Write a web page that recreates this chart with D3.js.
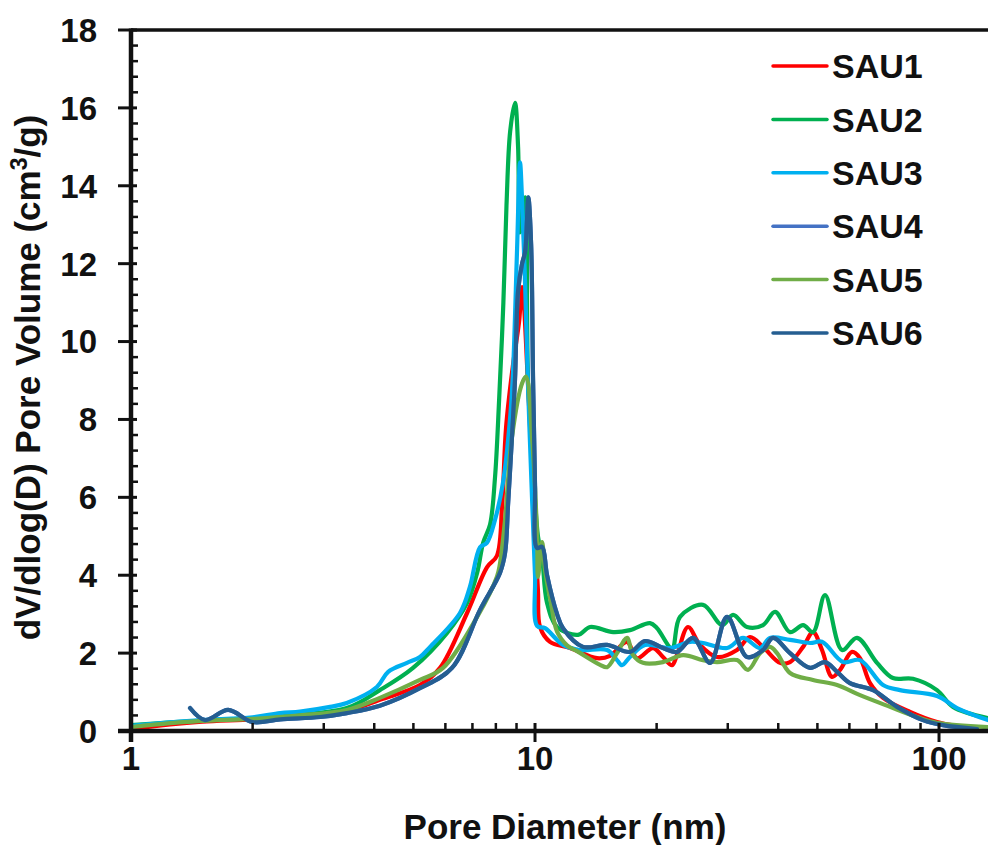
<!DOCTYPE html>
<html>
<head>
<meta charset="utf-8">
<script src="https://cdn.jsdelivr.net/npm/d3@7"></script>
<style>
  html, body { margin: 0; padding: 0; background: #fff; }
  svg { display: block; font-family: "Liberation Sans", Arial, sans-serif; font-weight: bold; }
</style>
</head>
<body>
<svg id="chart" width="988" height="845"></svg>
<script>
// ---------------- DATA ----------------
const seriesNames = ["SAU1", "SAU2", "SAU3", "SAU4", "SAU5", "SAU6"];
const seriesColors = ["#FF0000", "#00B050", "#00B0F0", "#4472C4", "#70AD47", "#255E91"];

const sau1 = [[1.0,0.05],[1.25,0.17],[1.5,0.24],[2.0,0.3],[2.62,0.38],[3.11,0.45],[3.42,0.5],[4.13,0.8],[5.19,1.18],[5.82,1.62],[6.79,3.03],[7.61,4.21],[8.05,4.5],[8.29,5.8],[8.48,7.8],[8.82,9.4],[9.13,10.5],[9.29,11.4],[9.6,9.0],[9.95,5.5],[10.17,3.6],[10.29,2.67],[10.89,2.29],[12.21,2.13],[14.24,1.87],[15.34,1.93],[16.89,2.29],[17.88,1.87],[19.59,2.13],[20.74,1.9],[21.83,1.69],[22.46,1.95],[23.92,2.67],[25.61,2.21],[28.22,1.9],[31.62,2.08],[34.06,2.41],[36.68,2.16],[40.41,1.75],[42.78,1.77],[46.08,2.16],[48.77,2.54],[51.33,2.08],[54.34,1.39],[56.89,1.57],[60.91,2.03],[63.75,1.87],[67.48,1.23],[72.69,0.85],[84.79,0.49],[98.86,0.23],[124.2,0.05]];

const sau2 = [[1.0,0.15],[1.25,0.22],[1.5,0.27],[2.0,0.33],[2.34,0.39],[3.42,0.59],[4.13,1.05],[4.99,1.62],[6.06,2.52],[6.79,3.29],[7.19,4.06],[7.44,4.83],[7.74,5.3],[7.96,6.5],[8.15,8.5],[8.35,11.0],[8.5,13.5],[8.68,15.4],[8.92,16.13],[9.08,15.0],[9.18,12.8],[9.45,13.7],[9.61,9.0],[9.89,6.8],[10.17,5.0],[10.41,4.47],[10.71,3.29],[11.34,2.67],[12.78,2.47],[13.69,2.67],[15.61,2.54],[17.18,2.59],[19.26,2.77],[20.05,2.64],[21.83,2.13],[22.85,2.93],[26.05,3.24],[29.04,2.72],[30.92,2.98],[33.48,2.67],[36.68,2.72],[39.28,3.06],[42.78,2.54],[46.08,2.72],[48.77,2.54],[52.22,3.49],[57.54,2.08],[62.66,2.39],[70.23,1.75],[76.92,1.36],[86.21,1.34],[98.86,1.05],[108.3,0.62],[132.2,0.33]];

const sau3 = [[1.0,0.13],[1.25,0.22],[1.5,0.28],[2.0,0.35],[2.34,0.46],[2.62,0.5],[3.11,0.62],[3.42,0.72],[4.06,1.13],[4.33,1.52],[4.82,1.75],[5.19,1.9],[5.5,2.16],[6.52,3.03],[6.9,3.7],[7.31,4.72],[7.6,4.83],[7.96,5.42],[8.33,6.37],[8.67,8.0],[8.82,9.2],[9.03,12.4],[9.18,14.6],[9.3,13.5],[9.45,11.5],[9.6,9.0],[9.83,6.0],[10.0,4.0],[10.12,2.7],[10.59,2.64],[11.73,2.21],[12.92,2.08],[15.08,2.08],[15.96,1.82],[16.42,1.69],[17.18,1.9],[18.72,2.21],[21.58,2.13],[24.2,2.29],[26.05,2.26],[29.88,2.13],[32.73,2.39],[36.06,2.13],[38.17,2.39],[42.78,2.34],[47.95,2.26],[51.33,2.29],[57.87,1.77],[63.75,1.82],[72.69,1.18],[80.06,1.05],[98.86,0.9],[110.8,0.59],[132.2,0.28]];

const sau6 = [[1.4,0.59],[1.525,0.28],[1.74,0.54],[2.0,0.23],[2.34,0.3],[2.94,0.36],[3.42,0.46],[4.13,0.65],[5.19,1.1],[6.23,1.62],[7.31,3.11],[8.19,4.06],[8.43,4.57],[8.58,5.86],[8.77,7.55],[8.92,9.0],[9.08,11.3],[9.29,12.0],[9.45,12.3],[9.56,13.2],[9.63,13.7],[9.78,12.5],[9.89,9.0],[10.0,6.3],[10.12,4.7],[10.41,4.73],[10.71,4.0],[11.34,3.0],[11.73,2.64],[13.15,2.16],[15.08,2.21],[17.18,2.03],[18.72,2.31],[20.74,2.13],[22.46,2.03],[24.61,2.39],[27.12,1.75],[29.88,2.93],[33.48,1.9],[36.68,2.08],[38.83,2.39],[42.78,2.0],[47.95,1.62],[52.22,1.77],[55.93,1.52],[60.21,1.23],[68.65,1.05],[78.7,0.62],[91.29,0.28],[102.3,0.15],[124.2,0.05]];

// SAU4 is not distinguishable in the figure: it lies under SAU6
const sau4 = sau6.map(d => [d[0], d[1]]);

const sau5 = [[1.0,0.1],[1.25,0.2],[1.5,0.26],[2.0,0.31],[2.62,0.4],[3.42,0.54],[4.13,0.85],[5.19,1.31],[5.92,1.62],[7.19,2.93],[8.05,3.96],[8.19,4.3],[8.43,5.42],[8.77,7.55],[9.29,8.93],[9.5,9.1],[9.83,7.55],[10.12,4.98],[10.17,3.96],[10.41,4.85],[10.59,4.13],[10.95,3.29],[11.34,2.55],[12.0,2.2],[12.71,2.05],[14.49,1.7],[15.08,1.64],[15.96,2.0],[16.89,2.39],[17.48,1.95],[18.5,1.75],[20.74,1.77],[23.25,1.95],[26.05,1.82],[28.22,1.77],[31.62,1.82],[33.67,1.57],[36.06,2.0],[38.17,2.16],[39.72,2.0],[42.78,1.49],[48.77,1.31],[55.93,1.18],[63.75,0.92],[75.65,0.62],[88.21,0.36],[98.86,0.21],[132.2,0.1]];

const seriesData = [sau1, sau2, sau3, sau4, sau5, sau6];

const xMajorTicks = [1, 10, 100];
const xMinorTicks = [2,3,4,5,6,7,8,9,20,30,40,50,60,70,80,90];
const yMajorTicks = [0, 2, 4, 6, 8, 10, 12, 14, 16, 18];
const xTitle = "Pore Diameter (nm)";

// ---------------- LAYOUT ----------------
const svg = d3.select("#chart");
const L = 131, R = 988, T = 30, B = 731;
const x = d3.scaleLog().domain([1, 132.2]).range([L, R]);
const y = d3.scaleLinear().domain([0, 18]).range([B, T]);
const yMinor = d3.range(0, 18.001, 0.4).filter(v => Math.abs(v / 2 - Math.round(v / 2)) > 1e-6);

svg.append("defs").append("clipPath").attr("id", "plotclip")
  .append("rect").attr("x", L).attr("y", T - 5).attr("width", R - L).attr("height", B - T + 5);

// series
const line = d3.line()
  .x(d => x(d[0])).y(d => y(d[1]))
  .curve(d3.curveCatmullRom.alpha(0.5));

const g = svg.append("g").attr("clip-path", "url(#plotclip)");
seriesData.forEach((data, i) => {
  g.append("path")
    .attr("d", line(data))
    .attr("fill", "none")
    .attr("stroke", seriesColors[i])
    .attr("stroke-width", 4.2)
    .attr("stroke-linejoin", "round")
    .attr("stroke-linecap", "round");
});

// axes
const axisColor = "#111";
svg.append("line").attr("x1", L).attr("x2", R).attr("y1", T).attr("y2", T)
  .attr("stroke", axisColor).attr("stroke-width", 3.5);
svg.append("line").attr("x1", L).attr("x2", L).attr("y1", T - 1.5).attr("y2", B + 11)
  .attr("stroke", axisColor).attr("stroke-width", 4.5);
svg.append("line").attr("x1", L - 13).attr("x2", R).attr("y1", B).attr("y2", B)
  .attr("stroke", axisColor).attr("stroke-width", 4.5);

// y ticks
svg.append("g").selectAll("line").data(yMajorTicks).join("line")
  .attr("x1", L - 13).attr("x2", L + 6)
  .attr("y1", d => y(d)).attr("y2", d => y(d))
  .attr("stroke", axisColor).attr("stroke-width", 3);
svg.append("g").selectAll("line").data(yMinor).join("line")
  .attr("x1", L).attr("x2", L + 7)
  .attr("y1", d => y(d)).attr("y2", d => y(d))
  .attr("stroke", axisColor).attr("stroke-width", 2.5);
svg.append("g").selectAll("text").data(yMajorTicks).join("text")
  .attr("x", 97).attr("y", d => y(d)).attr("dy", "0.36em")
  .attr("text-anchor", "end").attr("font-size", 33).attr("fill", "#111")
  .text(d => d);

// x ticks
svg.append("g").selectAll("line").data(xMajorTicks).join("line")
  .attr("x1", d => x(d)).attr("x2", d => x(d))
  .attr("y1", B - 8).attr("y2", B + 11)
  .attr("stroke", axisColor).attr("stroke-width", 3);
svg.append("g").selectAll("line").data(xMinorTicks).join("line")
  .attr("x1", d => x(d)).attr("x2", d => x(d))
  .attr("y1", B - 8).attr("y2", B)
  .attr("stroke", axisColor).attr("stroke-width", 2.5);
svg.append("g").selectAll("text").data(xMajorTicks).join("text")
  .attr("x", d => x(d)).attr("y", 770)
  .attr("text-anchor", "middle").attr("font-size", 33).attr("fill", "#111")
  .text(d => d);

// axis titles
svg.append("text").attr("x", 565).attr("y", 839)
  .attr("text-anchor", "middle").attr("font-size", 35).attr("fill", "#111")
  .text(xTitle);

const yt = svg.append("text")
  .attr("transform", "translate(40," + ((T + B) / 2 - 3) + ") rotate(-90)")
  .attr("text-anchor", "middle").attr("font-size", 35).attr("fill", "#111");
yt.append("tspan").text("dV/dlog(D) Pore Volume (cm");
yt.append("tspan").attr("font-size", 23).attr("dy", -13).text("3");
yt.append("tspan").attr("dy", 13).text("/g)");

// legend
const leg = svg.append("g");
seriesNames.forEach((name, i) => {
  const cy = 66 + i * 53.4;
  leg.append("line").attr("x1", 773).attr("x2", 827).attr("y1", cy).attr("y2", cy)
    .attr("stroke", seriesColors[i]).attr("stroke-width", 3.5).attr("stroke-linecap", "round");
  leg.append("text").attr("x", 832).attr("y", cy).attr("dy", "0.36em")
    .attr("font-size", 34).attr("fill", "#111").text(name);
});
</script>
</body>
</html>
